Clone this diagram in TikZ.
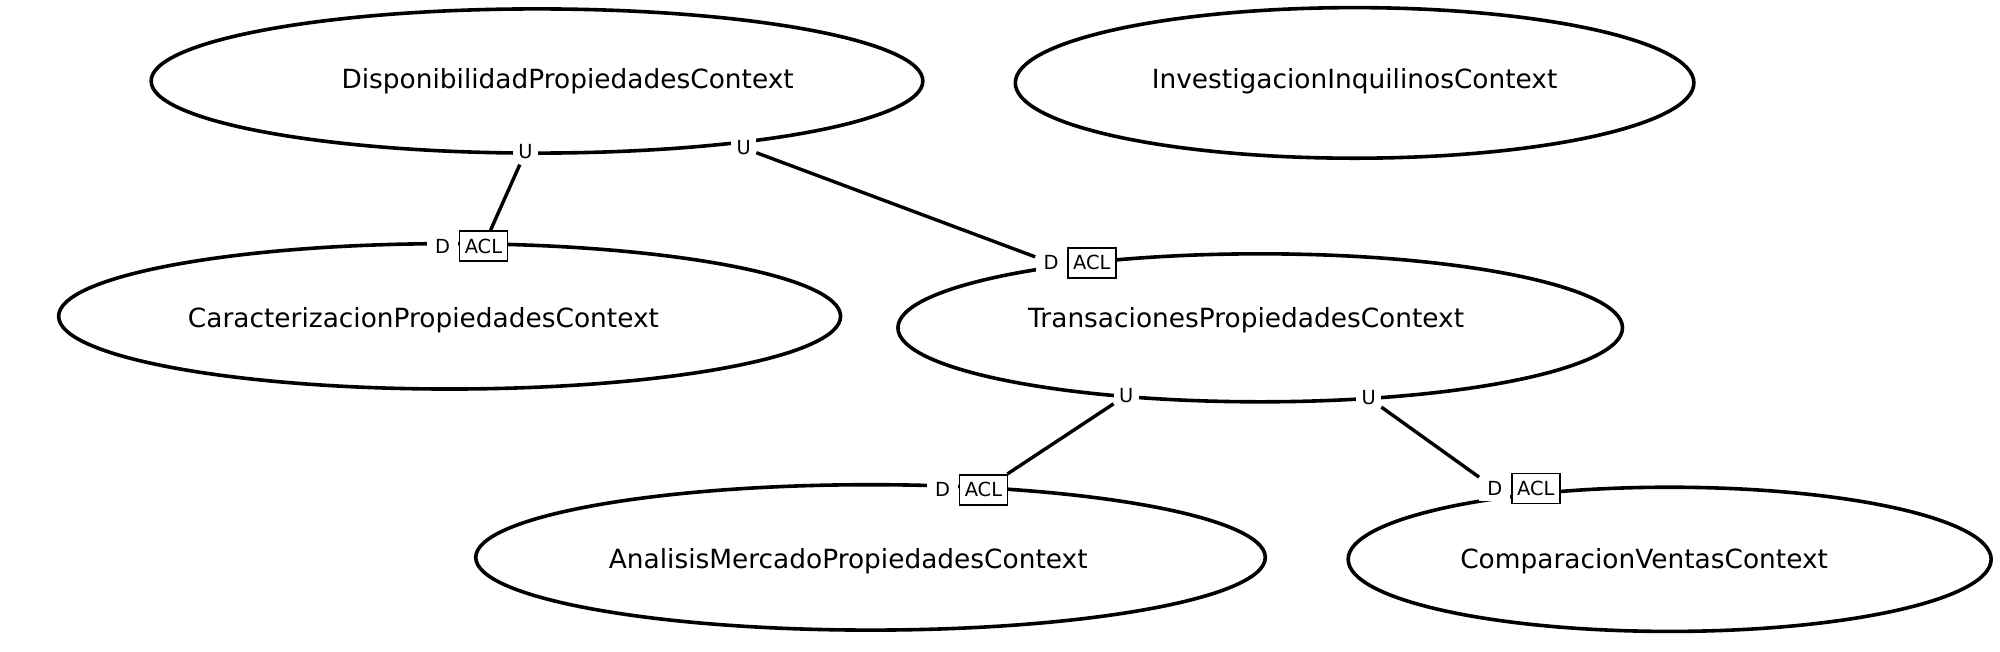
\documentclass[tikz,border=0pt]{standalone}
\usepackage{fontspec}
\setmainfont{DejaVu Sans}
\usetikzlibrary{shapes.geometric, positioning}
\tikzset{
  context/.style={ellipse, draw, line width=1.8pt, inner sep=0pt},
  ctxname/.style={font=\fontsize{13.2}{15}\selectfont},
  rel/.style={font=\fontsize{9.7}{11}\selectfont, fill=white, inner sep=2.6pt},
  down/.style={rel, inner xsep=4pt},
  acl/.style={rel, draw, line width=0.9pt, minimum width=24pt, minimum height=15pt, inner sep=1pt},
  link/.style={line width=1.7pt},
}

\begin{document}
\begin{tikzpicture}[x=0.6378pt, y=-0.6378pt]
    \useasboundingbox (0,0) rectangle (1568,510.4);
    % bounded contexts
    \node[context, minimum width=385.9pt, minimum height=72.1pt] (dispo) at (421,63.5) {};
    \node[context, minimum width=339.3pt, minimum height=75.3pt] (invest) at (1062,65) {};
    \node[context, minimum width=391.0pt, minimum height=72.7pt] (carac) at (352.5,248) {};
    \node[context, minimum width=362.3pt, minimum height=74.0pt] (trans) at (988,257) {};
    \node[context, minimum width=394.8pt, minimum height=72.7pt] (anal) at (682.5,437) {};
    \node[context, minimum width=321.5pt, minimum height=72.1pt] (comp) at (1309,438.5) {};
    \node[ctxname] (dispo name) at (445,64) {DisponibilidadPropiedadesContext};
    \node[ctxname] (invest name) at (1062,64) {InvestigacionInquilinosContext};
    \node[ctxname] (carac name) at (332,251) {CaracterizacionPropiedadesContext};
    \node[ctxname] (trans name) at (977,251) {TransacionesPropiedadesContext};
    \node[ctxname] (anal name) at (665,440) {AnalisisMercadoPropiedadesContext};
    \node[ctxname] (comp name) at (1289,440) {ComparacionVentasContext};
    % upstream / downstream ends
    \node[rel] (dispo u1) at (412,119) {U};
    \node[rel] (dispo u2) at (583,116) {U};
    \node[acl] (carac acl) at (379,193) {ACL};
    \node[down, left=0pt of carac acl] (carac d) {D};
    \node[acl] (trans acl) at (856,206) {ACL};
    \node[down, left=0pt of trans acl] (trans d) {D};
    \node[rel] (trans u1) at (883,310) {U};
    \node[rel] (trans u2) at (1073,312) {U};
    \node[acl] (anal acl) at (771,384) {ACL};
    \node[down, left=0pt of anal acl] (anal d) {D};
    \node[acl] (comp acl) at (1204,383) {ACL};
    \node[down, left=0pt of comp acl] (comp d) {D};
    % relationships
    \draw[link] (dispo u1) -- (carac acl);
    \draw[link] (dispo u2) -- (trans d);
    \draw[link] (trans u1) -- (anal acl);
    \draw[link] (trans u2) -- (comp d);
\end{tikzpicture}
\end{document}
